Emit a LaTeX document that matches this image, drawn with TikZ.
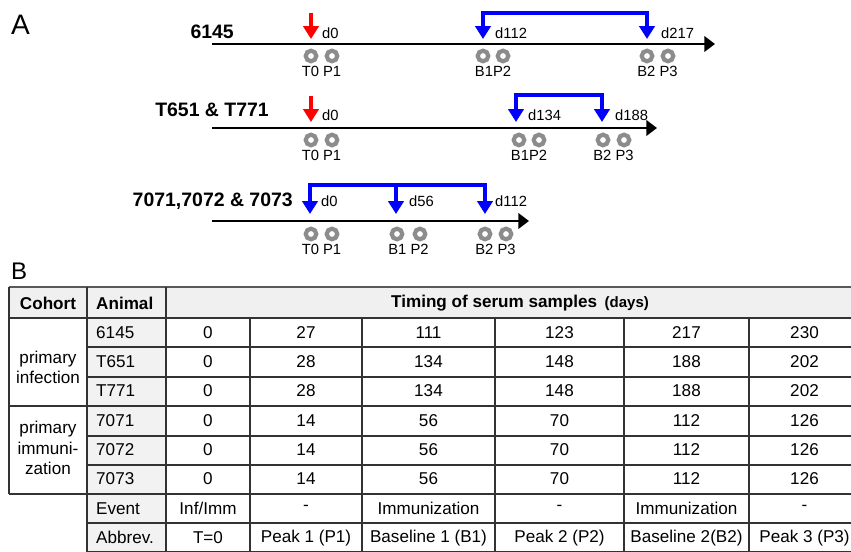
\documentclass[tikz,border=0pt]{standalone}
\usepackage{fontspec}
\setmainfont{Liberation Sans}
\usetikzlibrary{arrows.meta, positioning, calc}
\tikzset{
    axisline/.style={line width=2.5pt, -{Triangle[length=9pt, width=13pt]}},
    infarrow/.style={draw=red, line width=3.2pt, -{Triangle[length=11pt, width=13pt]}},
    immline/.style={draw=blue, line width=2.8pt},
    immarrow/.style={immline, -{Triangle[length=11pt, width=13pt]}},
    immbracket/.style={immline, {Triangle[length=11pt, width=13pt]}-{Triangle[length=11pt, width=13pt]}},
    sample/.style={circle, draw=black!45, line width=3.6pt, fill=white, minimum size=9pt, inner sep=0pt},
    daylbl/.style={anchor=west, inner sep=0pt, font=\fontsize{12.6}{14}\selectfont},
    smplbl/.style={inner sep=0pt, font=\fontsize{12.6}{14}\selectfont},
    grouplbl/.style={anchor=east, inner sep=0pt, font=\bfseries\fontsize{16.6}{19}\selectfont},
    panellbl/.style={anchor=west, inner sep=0pt},
    tabline/.style={draw=black!80, line width=0.9pt},
    cell/.style={inner sep=0pt, font=\fontsize{14.6}{17}\selectfont},
    headcell/.style={cell, font=\bfseries\fontsize{14.6}{17}\selectfont},
}

\begin{document}
\begin{tikzpicture}[x=0.3mm, y=-0.3mm]
\useasboundingbox (0,0) rectangle (851,552);

% ---- panel A ----
\node[panellbl, font=\fontsize{24}{28}\selectfont] (labA) at (11,25) {A};

% timeline 6145
\node[grouplbl] (g1) at (234,32) {6145};
\coordinate (a1s) at (212,44);
\coordinate (a1e) at (715,44);
\draw[axisline] (a1s) -- (a1e);
\coordinate (r1t) at (311,13);
\coordinate (r1b) at (311,39);
\draw[infarrow] (r1t) -- (r1b);
\coordinate (i1a) at (483,39);
\coordinate (i1b) at (483,13);
\coordinate (i1c) at (647,13);
\coordinate (i1d) at (647,39);
\draw[immbracket] (i1a) -- (i1b) -- (i1c) -- (i1d);
\node[daylbl] (d1a) at (322,33) {d0};
\node[daylbl] (d1b) at (495,33) {d112};
\node[daylbl] (d1c) at (661,33) {d217};
\node[sample] (s1a) at (311,56) {};
\node[sample] (s1b) at (332,56) {};
\node[sample] (s1c) at (483,56) {};
\node[sample] (s1d) at (503,56) {};
\node[sample] (s1e) at (647,56) {};
\node[sample] (s1f) at (668,56) {};
\node[smplbl] (l1a) at (321.5,71) {T0 P1};
\node[smplbl] (l1b) at (493,71) {B1P2};
\node[smplbl] (l1c) at (657.5,71) {B2 P3};

% timeline T651 & T771
\node[grouplbl] (g2) at (269,110) {T651 \& T771};
\coordinate (a2s) at (212,128);
\coordinate (a2e) at (657,128);
\draw[axisline] (a2s) -- (a2e);
\coordinate (r2t) at (311,96);
\coordinate (r2b) at (311,122);
\draw[infarrow] (r2t) -- (r2b);
\coordinate (i2a) at (516,122);
\coordinate (i2b) at (516,95);
\coordinate (i2c) at (602,95);
\coordinate (i2d) at (602,122);
\draw[immbracket] (i2a) -- (i2b) -- (i2c) -- (i2d);
\node[daylbl] (d2a) at (322,115) {d0};
\node[daylbl] (d2b) at (528,115) {d134};
\node[daylbl] (d2c) at (615,115) {d188};
\node[sample] (s2a) at (311,140) {};
\node[sample] (s2b) at (332,140) {};
\node[sample] (s2c) at (519,140) {};
\node[sample] (s2d) at (539,140) {};
\node[sample] (s2e) at (603,140) {};
\node[sample] (s2f) at (624,140) {};
\node[smplbl] (l2a) at (321.5,155) {T0 P1};
\node[smplbl] (l2b) at (529,155) {B1P2};
\node[smplbl] (l2c) at (613.5,155) {B2 P3};

% timeline 7071,7072 & 7073
\node[grouplbl] (g3) at (293,201) {7071,7072 \& 7073};
\coordinate (a3s) at (212,221);
\coordinate (a3e) at (529,221);
\draw[axisline] (a3s) -- (a3e);
\coordinate (i3a) at (310,214);
\coordinate (i3b) at (310,185);
\coordinate (i3c) at (485,185);
\coordinate (i3d) at (485,214);
\coordinate (i3m) at (396,185);
\coordinate (i3n) at (396,214);
\draw[immbracket] (i3a) -- (i3b) -- (i3c) -- (i3d);
\draw[immarrow] (i3m) -- (i3n);
\node[daylbl] (d3a) at (321,201) {d0};
\node[daylbl] (d3b) at (409,201) {d56};
\node[daylbl] (d3c) at (495,201) {d112};
\node[sample] (s3a) at (311,234) {};
\node[sample] (s3b) at (332,234) {};
\node[sample] (s3c) at (397,234) {};
\node[sample] (s3d) at (420,234) {};
\node[sample] (s3e) at (485,234) {};
\node[sample] (s3f) at (506,234) {};
\node[smplbl] (l3a) at (321.5,249) {T0 P1};
\node[smplbl] (l3b) at (408.5,249) {B1 P2};
\node[smplbl] (l3c) at (495.5,249) {B2 P3};

% ---- panel B ----
\node[panellbl, font=\fontsize{20.5}{24}\selectfont] (labB) at (11,271) {B};

\fill[black!6] (9,287) rectangle (875,318);
\fill[black!5] (87,318) rectangle (166,552);
\draw[tabline, draw=black!65, line width=1.6pt] (9,287) -- (875,287);
\draw[tabline] (9,318) -- (875,318);
\foreach \yy in {347,377,436,465,523,552}
    \draw[tabline] (87,\yy) -- (875,\yy);
\foreach \yy in {406,494}
    \draw[tabline] (9,\yy) -- (875,\yy);
\draw[tabline] (9,287) -- (9,494);
\foreach \xx in {87,166}
    \draw[tabline] (\xx,287) -- (\xx,552);
\foreach \xx in {250,362,495,624,749}
    \draw[tabline] (\xx,318) -- (\xx,552);

\node[headcell] (hcoh) at (48,303) {Cohort};
\node[headcell, anchor=west] (hani) at (96,303) {Animal};
\node[headcell] (htim) at (520,303) {Timing of serum samples\, {\fontsize{12.8}{15}\selectfont(days)}};

\node[cell, align=center, font=\fontsize{14.6}{17}\selectfont] (c1) at (48,367) {primary\\infection};
\node[cell, align=center, font=\fontsize{14.6}{17.6}\selectfont] (c2) at (48,448) {primary\\immuni-\\zation};

\foreach \nm/\va/\vb/\vc/\vd/\ve/\vf [count=\r] in {
    6145/0/27/111/123/217/230,
    T651/0/28/134/148/188/202,
    T771/0/28/134/148/188/202,
    7071/0/14/56/70/112/126,
    7072/0/14/56/70/112/126,
    7073/0/14/56/70/112/126,
    Event/Inf\slash Imm/-/Immunization/-/Immunization/-,
    Abbrev./T=0/Peak 1 (P1)/Baseline 1 (B1)/Peak 2 (P2)/Baseline 2(B2)/Peak 3 (P3)}
{
    \pgfmathsetmacro{\yr}{303.2+29.3*\r}
    \node[cell, anchor=west] (n\r) at (96,\yr) {\nm};
    \node[cell] (v\r a) at (208,\yr) {\va};
    \node[cell] (v\r b) at (306,\yr) {\vb};
    \node[cell] (v\r c) at (428.5,\yr) {\vc};
    \node[cell] (v\r d) at (559.5,\yr) {\vd};
    \node[cell] (v\r e) at (686.5,\yr) {\ve};
    \node[cell] (v\r f) at (804.5,\yr) {\vf};
}
\end{tikzpicture}
\end{document}
